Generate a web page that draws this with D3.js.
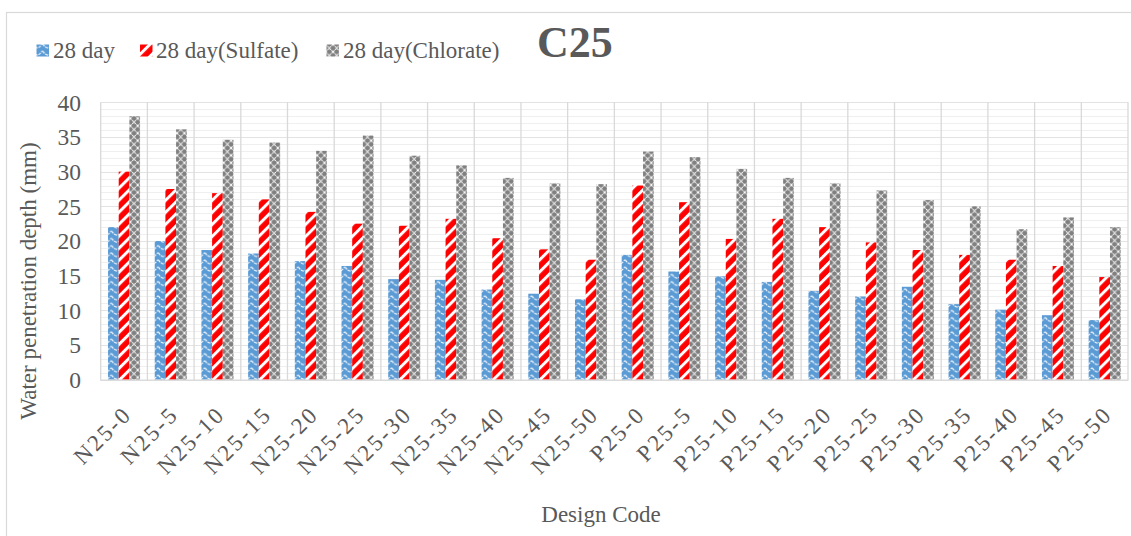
<!DOCTYPE html>
<html>
<head>
<meta charset="utf-8">
<script src="https://cdn.jsdelivr.net/npm/d3@7"></script>
<style>
  html, body { margin: 0; padding: 0; background: #ffffff; }
  svg { display: block; }
  text { font-family: "Liberation Serif", "Times New Roman", serif; fill: #595959; }
</style>
</head>
<body>
<svg id="chart" width="1131" height="536"></svg>
<script>
// Design codes along the x axis
const categories = [
  "N25-0", "N25-5", "N25-10", "N25-15", "N25-20", "N25-25", "N25-30", "N25-35", "N25-40", "N25-45", "N25-50",
  "P25-0", "P25-5", "P25-10", "P25-15", "P25-20", "P25-25", "P25-30", "P25-35", "P25-40", "P25-45", "P25-50"
];
// Water penetration depth (mm) per exposure
const day28 =         [22.0, 20.0, 18.7, 18.2, 17.1, 16.4, 14.5, 14.4, 13.0, 12.4, 11.6, 18.0, 15.6, 14.9, 14.1, 12.8, 12.0, 13.4, 10.9, 10.1, 9.3, 8.6];
const day28Sulfate =  [30.0, 27.5, 26.9, 26.0, 24.2, 22.5, 22.2, 23.2, 20.4, 18.8, 17.3, 28.0, 25.6, 20.3, 23.2, 22.0, 19.8, 18.7, 18.0, 17.3, 16.4, 14.8];
const day28Chlorate = [38.0, 36.1, 34.6, 34.2, 33.0, 35.2, 32.3, 30.9, 29.1, 28.3, 28.2, 32.9, 32.1, 30.4, 29.1, 28.3, 27.3, 25.9, 25.0, 21.7, 23.4, 22.0];
const seriesNames = ["28 day", "28 day(Sulfate)", "28 day(Chlorate)"];
const yTicks = [0, 5, 10, 15, 20, 25, 30, 35, 40];

const series = [
  { name: seriesNames[0], values: day28, fill: "url(#patBlue)" },
  { name: seriesNames[1], values: day28Sulfate, fill: "url(#patRed)" },
  { name: seriesNames[2], values: day28Chlorate, fill: "url(#patGray)" }
];

const svg = d3.select("#chart");
const plot = { left: 100.7, right: 1128, top: 102.3, bottom: 379.7 };

// ---- fill patterns ----
const defs = svg.append("defs");

// blue with white scalloped arcs
const pb = defs.append("pattern").attr("id", "patBlue")
  .attr("patternUnits", "userSpaceOnUse").attr("width", 10.6).attr("height", 7.2);
pb.append("rect").attr("width", 10.6).attr("height", 7.2).attr("fill", "#5b9bd5");
pb.append("path").attr("d", "M0.3,0.6 Q5.3,8.6 10.3,0.6")
  .attr("fill", "none").attr("stroke", "#ffffff").attr("stroke-width", 1.1).attr("stroke-dasharray", "3,1");

// red with wide white upward diagonal stripes
const pr = defs.append("pattern").attr("id", "patRed")
  .attr("patternUnits", "userSpaceOnUse").attr("width", 8.5).attr("height", 8.5)
  .attr("patternTransform", "rotate(45)");
pr.append("rect").attr("width", 8.5).attr("height", 8.5).attr("fill", "#ff0000");
pr.append("rect").attr("x", 0).attr("width", 3).attr("height", 8.5).attr("fill", "#ffffff");

// gray with white diagonal lattice
const pg = defs.append("pattern").attr("id", "patGray")
  .attr("patternUnits", "userSpaceOnUse").attr("width", 7.4).attr("height", 7.4);
pg.append("rect").attr("width", 7.4).attr("height", 7.4).attr("fill", "#808080");
pg.append("path").attr("d", "M0,0 L7.4,7.4 M7.4,0 L0,7.4")
  .attr("stroke", "#ffffff").attr("stroke-width", 1).attr("stroke-dasharray", "2,0.8").attr("fill", "none");

// ---- chart area border ----
svg.append("rect")
  .attr("x", 6.5).attr("y", 12.5).attr("width", 1140).attr("height", 540)
  .attr("fill", "none").attr("stroke", "#d9d9d9").attr("stroke-width", 1.2);

// ---- scales ----
const x0 = d3.scaleBand().domain(categories).range([plot.left, plot.right]).paddingInner(0).paddingOuter(0);
const x1 = d3.scaleBand().domain(seriesNames).range([0, x0.bandwidth()]).paddingInner(0).paddingOuter(0.6875);
const y = d3.scaleLinear().domain([0, 40]).range([plot.bottom, plot.top]);

// ---- gridlines ----
const grid = svg.append("g");
grid.selectAll("line.minor").data(d3.range(0, 41, 1).filter(v => v % 5 !== 0)).join("line")
  .attr("x1", plot.left).attr("x2", plot.right)
  .attr("y1", d => Math.round(y(d)) + 0.5).attr("y2", d => Math.round(y(d)) + 0.5)
  .attr("stroke", "#efefef").attr("stroke-width", 1);
grid.selectAll("line.major").data(yTicks).join("line")
  .attr("x1", plot.left).attr("x2", plot.right)
  .attr("y1", d => Math.round(y(d)) + 0.5).attr("y2", d => Math.round(y(d)) + 0.5)
  .attr("stroke", "#e3e3e3").attr("stroke-width", 1);
const bounds = categories.map(c => x0(c)).concat([plot.right]);
grid.selectAll("line.v").data(bounds).join("line")
  .attr("x1", d => d).attr("x2", d => d)
  .attr("y1", plot.top).attr("y2", plot.bottom + 1)
  .attr("stroke", "#d9d9d9").attr("stroke-width", 1.3);

// ---- bars ----
const groups = svg.append("g").selectAll("g").data(categories).join("g")
  .attr("transform", c => `translate(${x0(c)},0)`);
groups.selectAll("rect").data((c, i) => series.map(s => ({ s, v: s.values[i] }))).join("rect")
  .attr("x", d => x1(d.s.name))
  .attr("width", x1.bandwidth())
  .attr("y", d => y(d.v))
  .attr("height", d => y(0) - y(d.v))
  .attr("fill", d => d.s.fill);

// bottom axis line
svg.append("line").attr("x1", plot.left).attr("x2", plot.right)
  .attr("y1", plot.bottom + 0.5).attr("y2", plot.bottom + 0.5)
  .attr("stroke", "#d9d9d9").attr("stroke-width", 1.3);

// ---- y axis ----
const yAxis = d3.axisLeft(y).tickValues(yTicks).tickSize(0).tickPadding(0);
const yg = svg.append("g").attr("transform", "translate(81,0)").call(yAxis);
yg.select(".domain").remove();
yg.selectAll("text").attr("font-size", 23.5).attr("fill", "#595959")
  .attr("font-family", "Liberation Serif, serif").attr("dy", "0.33em");

// ---- x axis ----
const xAxis = d3.axisBottom(x0).tickSize(0).tickPadding(0);
const xg = svg.append("g").attr("transform", `translate(0,${plot.bottom})`).call(xAxis);
xg.select(".domain").remove();
xg.selectAll("text")
  .attr("font-size", 23).attr("fill", "#595959").attr("font-family", "Liberation Serif, serif")
  .attr("letter-spacing", "2.4px")
  .attr("text-anchor", "end").attr("dy", 0).attr("y", 0)
  .attr("transform", "translate(9,36) rotate(-45)");

// ---- axis titles ----
svg.append("text").attr("transform", "translate(36,281) rotate(-90)")
  .attr("text-anchor", "middle").attr("font-size", 23).text("Water penetration depth (mm)");
svg.append("text").attr("x", 601).attr("y", 522)
  .attr("text-anchor", "middle").attr("font-size", 23).text("Design Code");

// ---- legend ----
const legendX = [36.5, 140, 326.5];
const legendTextX = [53, 156, 343];
const lg = svg.append("g");
series.forEach((s, i) => {
  lg.append("rect").attr("x", legendX[i]).attr("y", 44.5).attr("width", 12.5).attr("height", 12).attr("fill", s.fill);
  lg.append("text").attr("x", legendTextX[i]).attr("y", 58).attr("font-size", 23).text(s.name);
});

// ---- title ----
svg.append("text").attr("x", 537).attr("y", 57)
  .attr("font-size", 44).attr("font-weight", "bold").attr("fill", "#595959").text("C25");
</script>
</body>
</html>
